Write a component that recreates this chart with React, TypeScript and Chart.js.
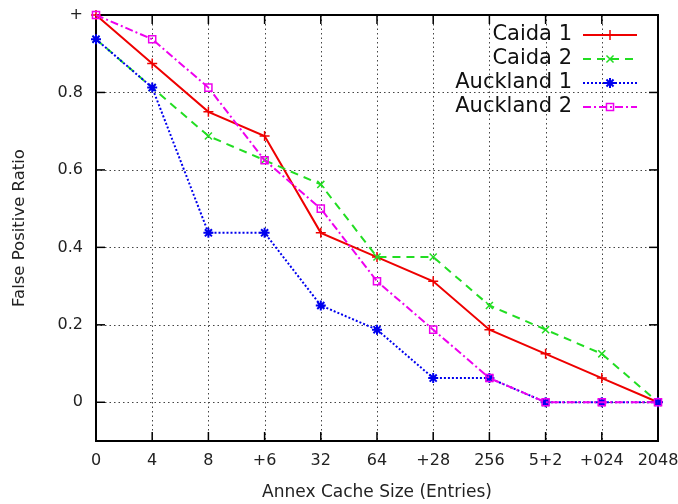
import { useEffect, useRef } from 'react';
import { Chart, registerables } from 'chart.js';

Chart.register(...registerables);

const categories = ['0', '4', '8', '+6', '32', '64', '+28', '256', '5+2', '+024', '2048'];
const caida1 = [1, 0.875, 0.75, 0.6875, 0.4375, 0.375, 0.3125, 0.1875, 0.125, 0.0625, 0];
const caida2 = [0.9375, 0.8125, 0.6875, 0.625, 0.5625, 0.375, 0.375, 0.25, 0.1875, 0.125, 0];
const auckland1 = [0.9375, 0.8125, 0.4375, 0.4375, 0.25, 0.1875, 0.0625, 0.0625, 0, 0, 0];
const auckland2 = [1, 0.9375, 0.8125, 0.625, 0.5, 0.3125, 0.1875, 0.0625, 0, 0, 0];
const yTicks = [0, 0.2, 0.4, 0.6, 0.8, 1];
const yTickLabels = ['0', '0.2', '0.4', '0.6', '0.8', '+'];
const seriesNames = ['Caida 1', 'Caida 2', 'Auckland 1', 'Auckland 2'];
const seriesColors = ['#ee0000', '#22dd22', '#0000ee', '#ee00ee'];
const seriesDash = [[], [8, 6], [2, 2], [8, 3, 2, 3]];
const seriesMarkers = ['cross', 'crossRot', 'star', 'rect'];

const FONT = '"DejaVu Sans", sans-serif';

function drawMarker(ctx: CanvasRenderingContext2D, style: string, x: number, y: number, r: number, color: string) {
  ctx.save();
  ctx.strokeStyle = color;
  ctx.lineWidth = style === 'star' ? 2 : 1.5;
  ctx.setLineDash([]);
  ctx.beginPath();
  if (style === 'cross' || style === 'star') {
    ctx.moveTo(x - r, y); ctx.lineTo(x + r, y);
    ctx.moveTo(x, y - r); ctx.lineTo(x, y + r);
  }
  if (style === 'crossRot' || style === 'star') {
    const d = r * Math.SQRT1_2;
    ctx.moveTo(x - d, y - d); ctx.lineTo(x + d, y + d);
    ctx.moveTo(x - d, y + d); ctx.lineTo(x + d, y - d);
  }
  if (style === 'rect') {
    const s = r * Math.SQRT1_2;
    ctx.rect(x - s, y - s, 2 * s, 2 * s);
  }
  ctx.stroke();
  ctx.restore();
}

const framePlugin = {
  id: 'gnuframe',
  beforeDatasetsDraw(chart: any) {
    const { ctx, chartArea, scales } = chart;
    const { left, right, top, bottom } = chartArea;
    const xs = scales.x;
    const ys = scales.y;
    const line = (x1: number, y1: number, x2: number, y2: number) => {
      ctx.beginPath(); ctx.moveTo(x1, y1); ctx.lineTo(x2, y2); ctx.stroke();
    };
    ctx.save();
    ctx.strokeStyle = '#444';
    ctx.lineWidth = 1;
    ctx.setLineDash([1.5, 3]);
    categories.forEach((_, i) => {
      const px = Math.round(xs.getPixelForValue(i)) + 0.5;
      line(px, top, px, bottom);
    });
    yTicks.forEach((v) => {
      const py = Math.round(ys.getPixelForValue(v)) + 0.5;
      line(left, py, right, py);
    });
    ctx.setLineDash([]);
    ctx.strokeStyle = '#000';
    ctx.lineWidth = 1.5;
    categories.forEach((_, i) => {
      const px = xs.getPixelForValue(i);
      line(px, bottom, px, bottom - 9);
      line(px, top, px, top + 9);
    });
    yTicks.forEach((v) => {
      const py = ys.getPixelForValue(v);
      line(left, py, left + 9, py);
      line(right, py, right - 9, py);
    });
    ctx.lineWidth = 2;
    ctx.strokeRect(left, top, right - left, bottom - top);
    ctx.restore();
  },
  afterDraw(chart: any) {
    const { ctx } = chart;
    ctx.save();
    ctx.font = `21px ${FONT}`;
    ctx.fillStyle = '#111';
    ctx.textAlign = 'right';
    ctx.textBaseline = 'middle';
    const rowY = [35, 59, 83, 107];
    seriesNames.forEach((name, i) => {
      const y = rowY[i];
      ctx.fillText(name, 572, y);
      ctx.save();
      ctx.strokeStyle = seriesColors[i];
      ctx.lineWidth = 2;
      ctx.setLineDash(seriesDash[i]);
      ctx.beginPath(); ctx.moveTo(583, y); ctx.lineTo(637, y); ctx.stroke();
      ctx.restore();
      drawMarker(ctx, seriesMarkers[i], 610, y, 5, seriesColors[i]);
    });
    ctx.restore();
  },
};

export default function App() {
  const canvasRef = useRef<HTMLCanvasElement | null>(null);

  useEffect(() => {
    if (!canvasRef.current) return;
    const seriesData = [caida1, caida2, auckland1, auckland2];
    const chart = new Chart(canvasRef.current, {
      type: 'line',
      data: {
        labels: categories,
        datasets: seriesNames.map((name, i) => ({
          label: name,
          data: seriesData[i],
          borderColor: seriesColors[i],
          backgroundColor: 'transparent',
          borderWidth: 2,
          borderDash: seriesDash[i],
          pointStyle: seriesMarkers[i] as any,
          pointRadius: 5,
          pointBorderWidth: seriesMarkers[i] === 'star' ? 2 : 1.5,
          pointBorderColor: seriesColors[i],
          pointBackgroundColor: 'transparent',
          tension: 0,
          fill: false,
          clip: false as any,
          order: 4 - i,
        })),
      },
      options: {
        animation: false,
        responsive: true,
        maintainAspectRatio: false,
        layout: { padding: { top: 15, right: 20, left: 0, bottom: 0 } },
        plugins: {
          legend: { display: false },
          tooltip: { enabled: false },
        },
        scales: {
          x: {
            type: 'category',
            offset: false,
            grid: { display: false, drawTicks: false },
            border: { display: false },
            ticks: {
              autoSkip: false,
              maxRotation: 0,
              padding: 10,
              color: '#222',
              font: { family: FONT, size: 16 },
            },
            title: {
              display: true,
              text: 'Annex Cache Size (Entries)',
              color: '#222',
              font: { family: FONT, size: 17 },
              padding: { top: 0, bottom: 1 },
            },
            afterFit: (s: any) => {
              s.height = 63;
              s.paddingLeft = 0;
              s.paddingRight = 0;
            },
          },
          y: {
            type: 'linear',
            min: -0.1,
            max: 1,
            grid: { display: false, drawTicks: false },
            border: { display: false },
            afterBuildTicks: (s: any) => {
              s.ticks = yTicks.map((v) => ({ value: v }));
            },
            ticks: {
              padding: 13,
              color: '#222',
              font: { family: FONT, size: 16 },
              callback: (v: any) => {
                const idx = yTicks.findIndex((t) => Math.abs(t - Number(v)) < 1e-9);
                return idx >= 0 ? yTickLabels[idx] : '';
              },
            },
            title: {
              display: true,
              text: 'False Positive Ratio',
              color: '#222',
              font: { family: FONT, size: 16.5 },
              padding: { top: 10, bottom: 0 },
            },
            afterFit: (s: any) => {
              s.width = 96;
              s.paddingTop = 0;
              s.paddingBottom = 0;
            },
          },
        },
      },
      plugins: [framePlugin],
    });
    return () => chart.destroy();
  }, []);

  return (
    <div style={{ position: 'absolute', left: 0, top: 0, width: 678, height: 504, background: '#fff' }}>
      <canvas ref={canvasRef} />
    </div>
  );
}
